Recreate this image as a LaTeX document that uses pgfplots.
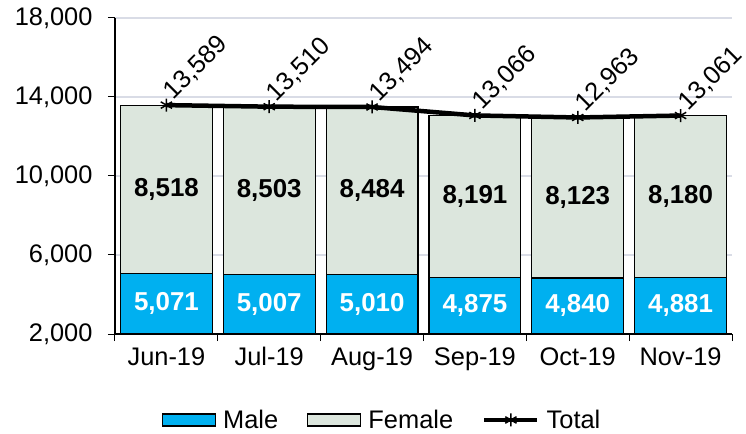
\documentclass[border=0pt]{standalone}
\usepackage{pgfplots}
\pgfplotsset{compat=1.18}
\usepackage{fontspec}
\setmainfont{Liberation Sans}
\definecolor{male}{RGB}{0,176,240}
\definecolor{female}{RGB}{220,230,221}
\definecolor{gridc}{RGB}{217,220,230}
\pgfplotsset{/pgf/number format/.cd,1000 sep={,},assume math mode=true}
\pgfplotsset{
  boxlegend/.style={legend image code/.code={\draw[##1] (0bp,-6bp) rectangle (53bp,6bp);}},
  linelegend/.style={legend image code/.code={\draw[mark repeat=2, mark phase=2, ##1] plot coordinates {(0bp,0bp) (26.5bp,0bp) (53bp,0bp)};}}
}
\newcommand{\fs}{\fontsize{25.5}{29}\selectfont}
\newcommand{\fb}{\fontsize{26}{30}\selectfont\bfseries}
\begin{document}
\begin{tikzpicture}
\useasboundingbox (-115bp,-100bp) rectangle (631bp,334bp);
\begin{axis}[
  at={(0,0)}, anchor=south west, scale only axis,
  width=617bp, height=316bp,
  xmin=-0.5, xmax=5.5, ymin=2000, ymax=18000,
  axis x line=bottom, axis y line=left,
  axis line style={-, black, line width=1.2bp},
  xtick={-0.5,0.5,...,5.5},
  x tick label as interval,
  xticklabels={Jun-19,Jul-19,Aug-19,Sep-19,Oct-19,Nov-19},
  ytick={2000,6000,10000,14000,18000},
  scaled y ticks=false,
  tick align=outside,
  major tick length=7bp,
  tick style={black, line width=1bp},
  ymajorgrids,
  grid style={gridc, line width=1.2bp},
  tick label style={font=\fs},
  yticklabel style={xshift=-12bp},
  xticklabel style={yshift=-3bp},
  legend style={at={(0.433,-0.272)}, anchor=center, draw=none, fill=none,
    legend columns=3, font=\fs, inner sep=0pt,
    /tikz/every odd column/.append style={column sep=5bp},
    /tikz/every even column/.append style={column sep=27bp}},
]
\addlegendimage{fill=male, draw=black, line width=1.2bp, boxlegend}
\addlegendentry{Male}
\addlegendimage{fill=female, draw=black, line width=1.2bp, boxlegend}
\addlegendentry{Female}
\addlegendimage{black, line width=4.5bp, mark=asterisk, mark size=6.5bp,
  mark options={line width=1.5bp}, linelegend}
\addlegendentry{Total}

% Female bars (drawn to total height)
\addplot[ybar, bar width=0.893, bar shift=0pt, fill=female, draw=black, line width=1.2bp, forget plot]
  coordinates {(0,13589) (1,13510) (2,13494) (3,13066) (4,12963) (5,13061)};
% Male bars
\addplot[ybar, bar width=0.893, bar shift=0pt, fill=male, draw=black, line width=1.2bp, forget plot]
  coordinates {(0,5071) (1,5007) (2,5010) (3,4875) (4,4840) (5,4881)};
% Female labels
\addplot[draw=none, mark=none, forget plot, point meta=explicit,
  nodes near coords={\pgfmathprintnumber{\pgfplotspointmeta}},
  nodes near coords style={anchor=center, font=\fb, text=black}]
  coordinates {(0,9330)[8518] (1,9258.5)[8503] (2,9252)[8484] (3,8970.5)[8191] (4,8901.5)[8123] (5,8971)[8180]};
% Male labels
\addplot[draw=none, mark=none, forget plot, point meta=explicit,
  nodes near coords={\pgfmathprintnumber{\pgfplotspointmeta}},
  nodes near coords style={anchor=center, font=\fb, text=white}]
  coordinates {(0,3535.5)[5071] (1,3503.5)[5007] (2,3505)[5010] (3,3437.5)[4875] (4,3420)[4840] (5,3440.5)[4881]};
% Total line
\addplot[black, line width=4.5bp, mark=asterisk, mark size=6.5bp,
  mark options={line width=1.5bp}, forget plot, point meta=y,
  nodes near coords={\pgfmathprintnumber{\pgfplotspointmeta}},
  nodes near coords style={xshift=7bp, yshift=4bp, rotate=45, anchor=base west, font=\fs, text=black, inner sep=0pt}]
  coordinates {(0,13589) (1,13510) (2,13494) (3,13066) (4,12963) (5,13061)};
\end{axis}
\end{tikzpicture}
\end{document}
